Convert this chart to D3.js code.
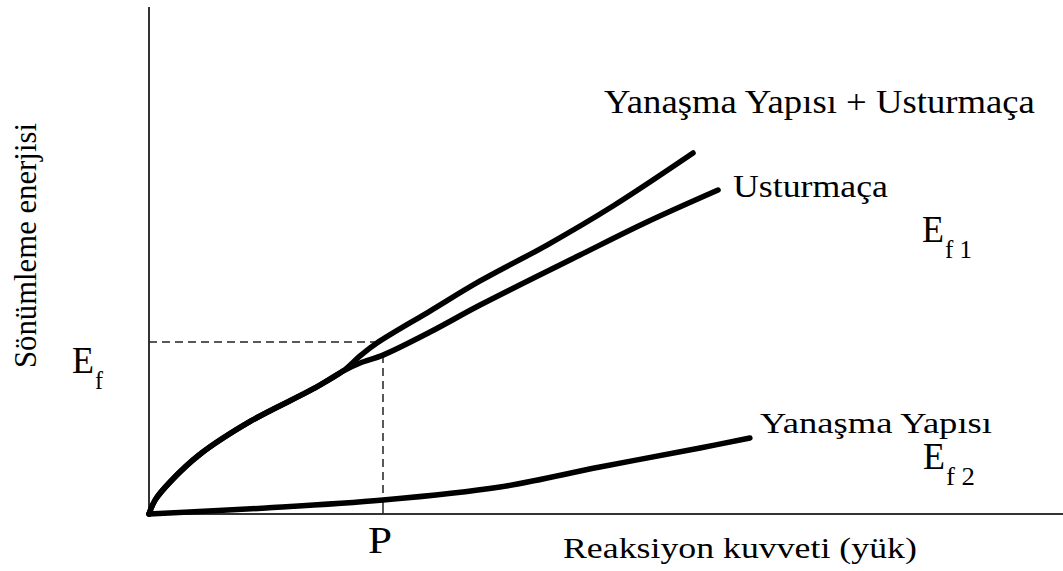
<!DOCTYPE html>
<html><head><meta charset="utf-8"><script src="https://cdn.jsdelivr.net/npm/d3@7"></script></head>
<body style="margin:0">
<svg id="s" width="1063" height="571"></svg>
<script>
// ---- Data (x in units of P, y in units of Ef) ----
const seriesNames = ["Yanaşma Yapısı + Usturmaça", "Usturmaça", "Yanaşma Yapısı"];

const combinedX = [0, 0.026, 0.090, 0.214, 0.436, 0.701, 0.829, 0.902, 0.974, 1.201, 1.415, 1.701, 1.983, 2.325];
const combinedY = [0, 0.081, 0.186, 0.343, 0.541, 0.727, 0.831, 0.919, 0.994, 1.180, 1.355, 1.564, 1.791, 2.099];

const fenderX = [0, 0.026, 0.090, 0.214, 0.436, 0.701, 0.829, 0.902, 1.000, 1.201, 1.415, 1.842, 2.128, 2.432];
const fenderY = [0, 0.081, 0.186, 0.343, 0.541, 0.727, 0.831, 0.878, 0.924, 1.058, 1.215, 1.506, 1.698, 1.884];

const structX = [0, 0.500, 1.000, 1.500, 1.927, 2.355, 2.568];
const structY = [0, 0.035, 0.081, 0.157, 0.273, 0.384, 0.442];

const refP = 1;       // P on the x axis
const refEf = 1;      // Ef on the y axis
const tickLabels = ["P"];

const xTitle = "Reaksiyon kuvveti (yük)";
const yTitle = "Sönümleme enerjisi";

// ---- Layout ----
const svg = d3.select("#s");
const x = d3.scaleLinear().domain([0, 3.906]).range([149, 1063]);
const y = d3.scaleLinear().domain([0, 2.948]).range([514, 7]);

const zip = (xs, ys) => xs.map((v, i) => [v, ys[i]]);
const line = d3.line().x(d => x(d[0])).y(d => y(d[1])).curve(d3.curveCatmullRom.alpha(0.5));

// axes
const axisColor = "#333";
svg.append("line").attr("x1", x(0)).attr("x2", x(0)).attr("y1", y(0)).attr("y2", y.range()[1])
  .attr("stroke", axisColor).attr("stroke-width", 2);
svg.append("line").attr("x1", x(0)).attr("x2", x.range()[1]).attr("y1", y(0)).attr("y2", y(0))
  .attr("stroke", axisColor).attr("stroke-width", 2);

// reference guides
const interp = (xs, ys, v) => {
  for (let i = 1; i < xs.length; i++) {
    if (v <= xs[i]) { const t = (v - xs[i-1]) / (xs[i] - xs[i-1]); return ys[i-1] + t * (ys[i] - ys[i-1]); }
  }
  return ys[ys.length - 1];
};
const fenderAtP = interp(fenderX, fenderY, refP);
const structAtP = interp(structX, structY, refP);

svg.append("line").attr("x1", x(0)).attr("x2", x(refP) - 6).attr("y1", y(refEf)).attr("y2", y(refEf))
  .attr("stroke", "#222").attr("stroke-width", 1.5).attr("stroke-dasharray", "8,5");
svg.append("line").attr("x1", x(refP)).attr("x2", x(refP)).attr("y1", y(fenderAtP)).attr("y2", y(structAtP))
  .attr("stroke", "#222").attr("stroke-width", 1.5).attr("stroke-dasharray", "8,5");
svg.append("line").attr("x1", x(refP)).attr("x2", x(refP)).attr("y1", y(structAtP)).attr("y2", y(0))
  .attr("stroke", "#222").attr("stroke-width", 1.5);

// curves
[[combinedX, combinedY], [fenderX, fenderY], [structX, structY]].forEach(([xs, ys]) => {
  svg.append("path").datum(zip(xs, ys)).attr("d", line)
    .attr("fill", "none").attr("stroke", "#000").attr("stroke-width", 5.5)
    .attr("stroke-linecap", "round").attr("stroke-linejoin", "round");
});

// text with width fitted by horizontal scaling
function label(xPos, yPos, size, txt, width, rotate) {
  const g = svg.append("g");
  const t = g.append("text").attr("x", 0).attr("y", 0).attr("font-size", size)
    .style("font-family", `"Liberation Serif"`).text(txt);
  let sx = 1;
  if (width) {
    const w = t.node().getComputedTextLength();
    if (w > 0) sx = width / w;
  }
  g.attr("transform", `translate(${xPos},${yPos})` + (rotate ? ` rotate(${rotate})` : "") + ` scale(${sx},1)`);
  return g;
}

// tick label P
label(x(refP) - 15, 553, 37, tickLabels[0], 24);

// axis titles
label(563, 558, 30, xTitle, 354);
label(36, 368, 31, yTitle, 245, -90);

// series labels
label(604, 113, 34, seriesNames[0], 431);
label(733, 197, 32, seriesNames[1], 155);
label(760, 433, 30, seriesNames[2], 232);

// energy symbols
function energy(xPos, base, sub, subLen) {
  label(xPos, base, 38, "E", 22);
  label(xPos + 23, base + 16, 26, sub, subLen);
}
energy(72, 373, "f", 8);
energy(922, 242, "f 1", 27);
energy(923, 469, "f 2", 29);
</script>
</body></html>
